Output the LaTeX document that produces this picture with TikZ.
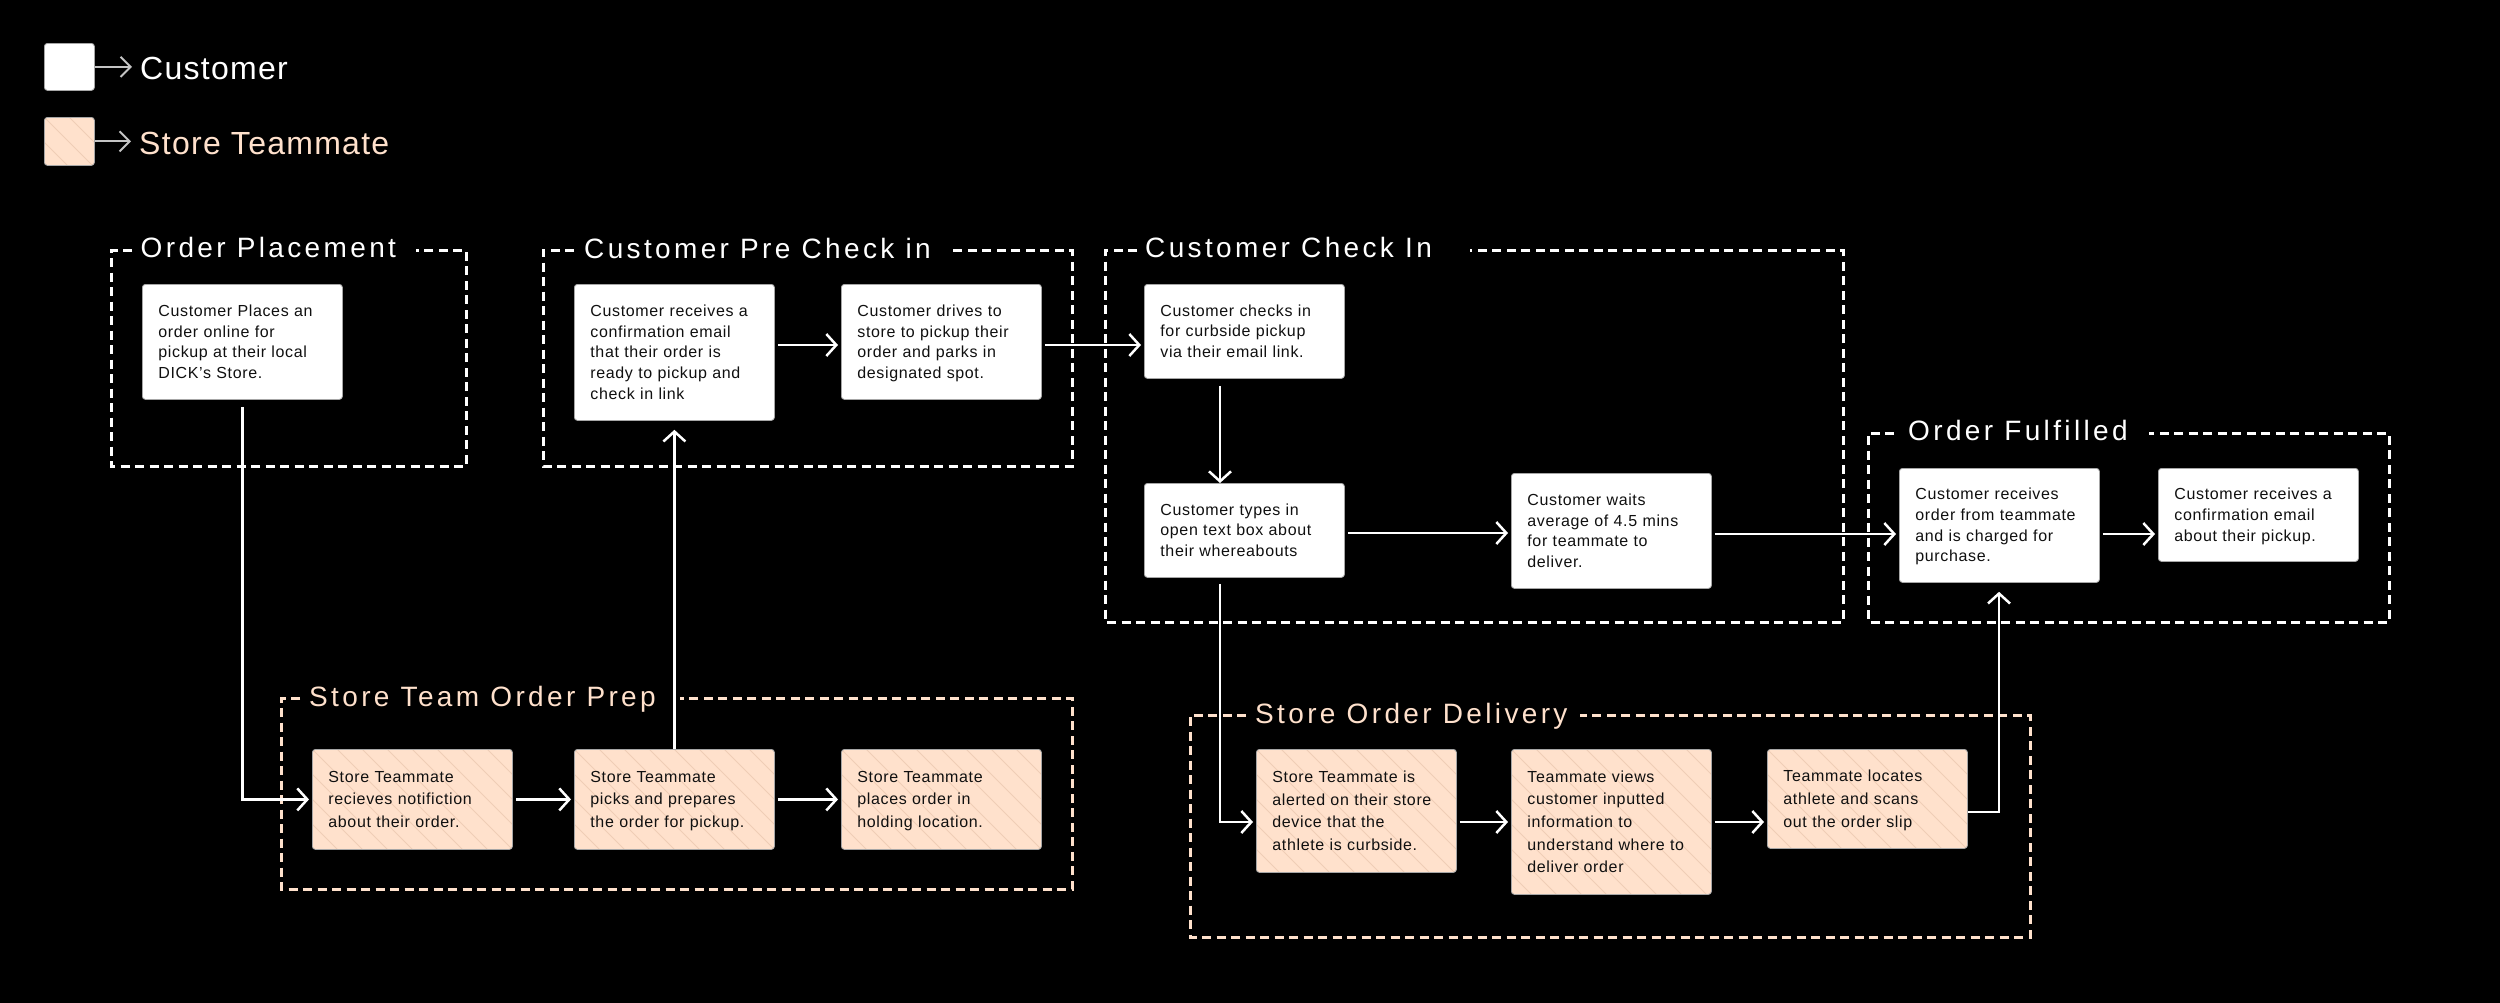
\documentclass[tikz,border=0pt]{standalone}
\usepackage{fontspec}
\setmainfont{Liberation Sans}
\newfontfamily\boxfont[LetterSpace=4]{Liberation Sans}
\newfontfamily\ttlfont[LetterSpace=12]{Liberation Sans}
\newfontfamily\legfont[LetterSpace=4]{Liberation Sans}
\usetikzlibrary{arrows.meta}
\definecolor{peach}{HTML}{FFE1CC}
\definecolor{hatchc}{HTML}{EFCDB6}
\definecolor{edgec}{HTML}{A6A6A6}
\definecolor{legarrc}{HTML}{C4C4C4}
\definecolor{inkc}{HTML}{101010}
\newcommand\topst{\rule{0pt}{15pt}}
\newcommand\botst{\rule[-4pt]{0pt}{4pt}}
\begin{document}
\begin{tikzpicture}[x=1pt,y=-1pt,
  hatched/.style={path picture={\foreach \k in {-8,...,12}{\draw[hatchc, line width=0.8pt] ([xshift=\k*25pt]path picture bounding box.north west) -- ++(170pt,-170pt);}}},
  basebox/.style={rectangle, rounded corners=3pt, draw=edgec, line width=0.8pt, minimum width=200pt, text width=168pt, inner xsep=16pt, inner ysep=0pt, align=left, anchor=north west, text=inkc},
  cbox/.style={basebox, fill=white, font=\boxfont\fontsize{16pt}{20.7pt}\selectfont},
  sbox/.style={basebox, fill=peach, hatched, font=\boxfont\fontsize{16pt}{22.7pt}\selectfont},
  grpc/.style={draw=white, line width=3pt, dash pattern=on 9pt off 5.5pt},
  grps/.style={grpc, draw=peach},
  ttlc/.style={font=\ttlfont\fontsize{28pt}{32pt}\selectfont, text=white, inner sep=0pt, anchor=base west},
  ttls/.style={ttlc, text=peach},
  arr/.style={draw=white, line width=2.5pt, -{Straight Barb[length=10pt,width=22pt]}, shorten <=3pt, shorten >=3pt},
  legbox/.style={rectangle, rounded corners=3pt, draw=edgec, line width=0.8pt, minimum width=50pt, minimum height=47pt, anchor=north west, inner sep=0pt},
  legtxt/.style={font=\legfont\fontsize{32pt}{36pt}\selectfont, inner sep=0pt, anchor=base west},
  legarr/.style={draw=legarrc, line width=2pt, -{Straight Barb[length=10pt,width=20pt]}, shorten >=8pt}
]
% background
\useasboundingbox (0,0) rectangle (2500,1002);
\fill[black] (-20,-20) rectangle (2520,1022);

% helper coordinates
\coordinate (y345) at (0,345);
\coordinate (y533) at (0,533);
\coordinate (y534) at (0,534);
\coordinate (y822) at (0,822);
\coordinate (y812) at (0,812);
\coordinate (x1220) at (1220,0);
\coordinate (x1999) at (1999,0);

% legend
\node[legbox, fill=white] (LC) at (44,43) {};
\node[legbox, fill=peach, hatched, minimum height=48pt] (LS) at (44,117) {};
\node[legtxt, text=white] (LCt) at (140,79) {Customer};
\node[legtxt, text=peach] (LSt) at (139,154) {Store Teammate};
\draw[legarr] (LC.east) -- (LCt.west |- LC.east);
\draw[legarr] (LS.east) -- (LSt.west |- LS.east);

% groups
\draw[grpc] (132,250) -- (111,250) -- (111,466) -- (466,466) -- (466,250) -- (416,250);
\node[ttlc] (tGP) at (140.5,257.5) {Order Placement};

\draw[grpc] (574,250) -- (543,250) -- (543,466) -- (1072,466) -- (1072,250) -- (951,250);
\node[ttlc] (tGC) at (584,258) {Customer Pre Check in};

\draw[grpc] (1137,250) -- (1105,250) -- (1105,622) -- (1843,622) -- (1843,250) -- (1470,250);
\node[ttlc] (tGK) at (1145,257) {Customer Check In};

\draw[grpc] (1894,433) -- (1868,433) -- (1868,622) -- (2389,622) -- (2389,433) -- (2149,433);
\node[ttlc] (tGF) at (1908,440.5) {Order Fulfilled};

\draw[grps] (300,698) -- (281,698) -- (281,889) -- (1072,889) -- (1072,698) -- (680,698);
\node[ttls] (tGS) at (309,706) {Store Team Order Prep};

\draw[grps] (1246,715) -- (1190,715) -- (1190,937) -- (2030,937) -- (2030,715) -- (1580,715);
\node[ttls] (tGD) at (1255,723) {Store Order Delivery};

% customer boxes
\node[cbox, minimum height=115pt] (P1) at (142,284) {\topst Customer Places an\\order online for\\pickup at their local\\DICK’s Store.\botst};
\node[cbox, minimum height=136pt] (C2) at (574,284) {\topst Customer receives a\\confirmation email\\that their order is\\ready to pickup and\\check in link\botst};
\node[cbox, minimum height=115pt] (C3) at (841,284) {\topst Customer drives to\\store to pickup their\\order and parks in\\designated spot.\botst};
\node[cbox, minimum height=94pt] (K1) at (1144,284) {\topst Customer checks in\\for curbside pickup\\via their email link.\botst};
\node[cbox, minimum height=94pt] (K2) at (1144,483) {\topst Customer types in\\open text box about\\their whereabouts\botst};
\node[cbox, minimum height=115pt] (K3) at (1511,473) {\topst Customer waits\\average of 4.5 mins\\for teammate to\\deliver.\botst};
\node[cbox, minimum height=114pt] (F1) at (1899,468) {\topst Customer receives\\order from teammate\\and is charged for\\purchase.\botst};
\node[cbox, minimum height=93pt] (F2) at (2158,468) {\topst Customer receives a\\confirmation email\\about their pickup.\botst};

% store boxes
\node[sbox, minimum height=100pt] (S1) at (312,749) {\topst Store Teammate\\recieves notifiction\\about their order.\botst};
\node[sbox, minimum height=100pt] (S2) at (574,749) {\topst Store Teammate\\picks and prepares\\the order for pickup.\botst};
\node[sbox, minimum height=100pt] (S3) at (841,749) {\topst Store Teammate\\places order in\\holding location.\botst};
\node[sbox, minimum height=123pt] (D1) at (1256,749) {\topst Store Teammate is\\alerted on their store\\device that the\\athlete is curbside.\botst};
\node[sbox, minimum height=145pt] (D2) at (1511,749) {\topst Teammate views\\customer inputted\\information to\\understand where to\\deliver order\botst};
\node[sbox, minimum height=99pt] (D3) at (1767,749) {\topst Teammate locates\\athlete and scans\\out the order slip\botst};

% connectors
\draw[arr, shorten <=7pt] (P1.south) |- (S1.west);
\draw[arr] (S1.east) -- (S2.west);
\draw[arr] (S2.east) -- (S3.west);
\draw[arr, shorten <=0pt, shorten >=9pt] (S2.north) -- (C2.south);
\draw[arr] (C2.east |- y345) -- (C3.west |- y345);
\draw[arr] (C3.east |- y345) -- (K1.west |- y345);
\draw[arr, shorten <=7pt, shorten >=0pt] (K1.south -| x1220) -- (K2.north -| x1220);
\draw[arr] (K2.east |- y533) -- (K3.west |- y533);
\draw[arr] (K3.east |- y534) -- (F1.west |- y534);
\draw[arr] (F1.east |- y534) -- (F2.west |- y534);
\draw[arr, shorten <=6pt] (K2.south -| x1220) |- (D1.west |- y822);
\draw[arr] (D1.east |- y822) -- (D2.west |- y822);
\draw[arr] (D2.east |- y822) -- (D3.west |- y822);
\draw[arr, shorten <=0pt, shorten >=9pt] (D3.east |- y812) -| (F1.south -| x1999);
\end{tikzpicture}
\end{document}
